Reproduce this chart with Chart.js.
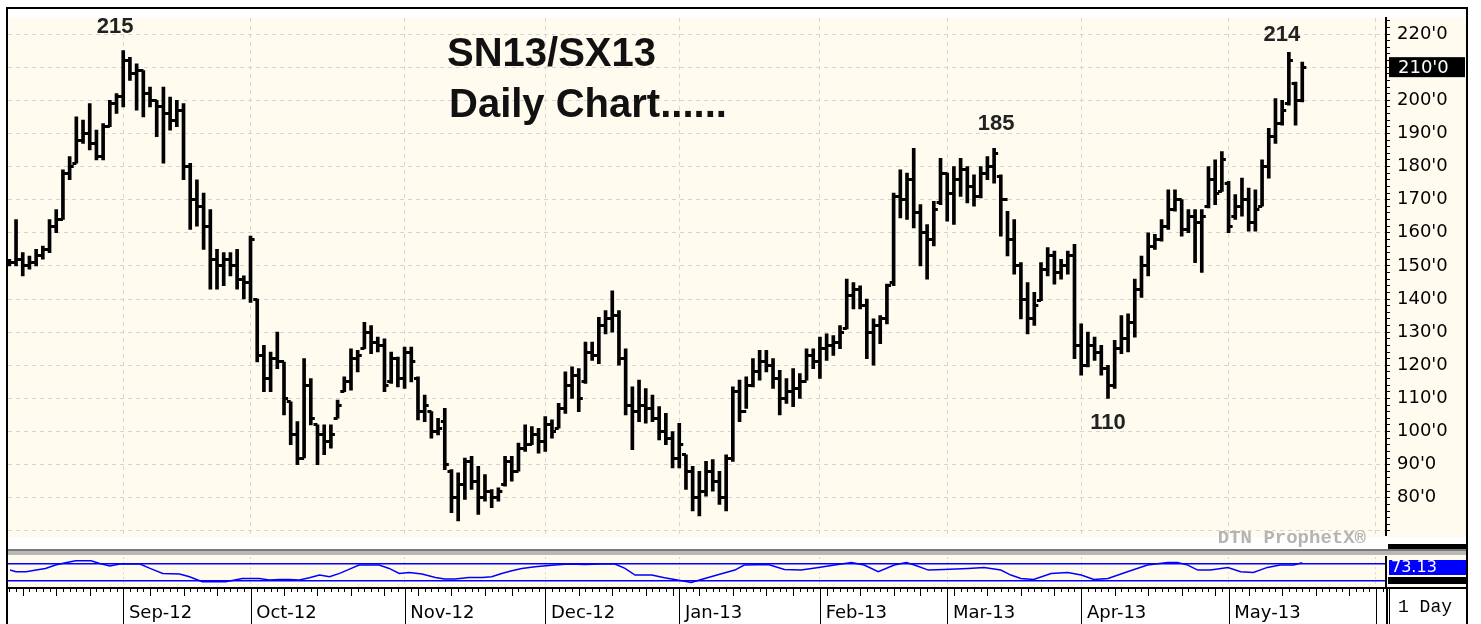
<!DOCTYPE html>
<html>
<head>
<meta charset="utf-8">
<title>SN13/SX13 Daily Chart</title>
<script src="https://cdn.jsdelivr.net/npm/chart.js@4.4.0/dist/chart.umd.min.js"></script>
<style>
    html, body { margin: 0; padding: 0; background: #ffffff; }
    #wrap { position: relative; width: 1481px; height: 624px; overflow: hidden; }
    #priceBox { position: absolute; left: 0; top: 0; width: 1481px; height: 553px; }
    #studyBox { position: absolute; left: 0; top: 553px; width: 1481px; height: 71px; }
</style>
</head>
<body>
<div id="wrap">
    <div id="priceBox"><canvas id="priceChart"></canvas></div>
    <div id="studyBox"><canvas id="studyChart"></canvas></div>
</div>
<script>
// daily bars, Aug 9 2012 .. May 16 2013 (one row per month)
const highs = [
    152, 164, 154, 153, 155, 156, 164, 167, 179, 183, 195, 194, 199, 191, 193, 200, 202,
    215, 213, 211, 209, 204, 200, 204, 201, 200, 199, 181, 176, 172, 167, 155, 154, 154, 155, 147,
    159, 140, 126, 124, 130, 121, 109, 103, 122, 116, 102, 102, 102, 109.5, 116.5, 125, 124.5, 133, 132, 128.5, 128, 124, 122.5,
    125.5, 125.5, 116.5, 111, 106, 104, 107, 88.5, 87.5, 92, 92.5, 89.5, 87, 82.5, 83, 92.5, 92.5, 96.5, 102, 101.5, 101,
    104.5, 103.5, 108.5, 118, 119.5, 119, 127, 127, 134.5, 136.5, 142.5, 136.5, 125, 113.5, 115.5, 113, 111, 107.5, 105.5, 100,
    102.5, 93, 89.5, 88, 91, 91.5, 88, 93, 113.5, 115.5, 116.5, 122, 124.5, 124.5, 122, 118.5, 116, 119, 117.5, 125, 125,
    128.5, 129.5, 129, 132, 146, 145, 144, 140, 134, 135, 144.5, 172, 179, 178, 185.5, 168.5, 162.5, 169.5, 182.5,
    178, 180, 182.5, 180, 177.5, 180, 183, 185.5, 177.5, 166.5, 164, 151, 145, 142, 151, 155.5, 154.5, 152, 154.5, 156.5,
    132.5, 130, 128.5, 126, 120, 127.5, 135, 135.5, 146, 153, 160, 159.5, 164, 173, 173, 170, 167, 167, 167, 180, 182, 184.5,
    175.5, 171.5, 176.5, 173.5, 173, 182, 191.5, 200.5, 200, 214.5, 205.5, 211.5
];
const lows = [
    150, 150, 147, 149, 150, 152, 154, 160, 164, 176, 181, 187, 185, 182, 182, 192, 196,
    198, 206, 197, 195, 198, 189, 181, 191, 192, 176, 161, 162, 155, 143, 143, 144, 147, 143, 140,
    139, 121, 112, 112, 119, 105, 96, 90, 92, 102, 90, 93, 95, 104, 112, 112.5, 118, 125, 123.5, 124, 112, 114.5, 113.5,
    113, 115, 103.5, 103, 98, 99, 88.5, 75.5, 73, 79.5, 82.5, 75, 79, 77, 79, 83.5, 85, 88, 94, 96, 93.5,
    94, 98, 101, 105.5, 110, 106, 114.5, 121.5, 120.5, 129.5, 130, 120, 105, 94.5, 103, 102.5, 103, 97.5, 96, 89,
    89, 82.5, 76, 74.5, 80.5, 82, 78, 76, 91, 103, 107, 113.5, 115.5, 118, 113, 105, 108.5, 107.5, 110, 115.5, 119,
    116, 121.5, 123, 125, 131, 137, 137, 122, 120, 126.5, 132.5, 144, 164.5, 164, 161.5, 150, 146, 156, 168.5,
    163.5, 162.5, 171, 169, 168, 170.5, 176, 175, 159, 153, 147.5, 134, 129.5, 132, 139.5, 147, 144.5, 146, 147.5, 122,
    117, 119.5, 121.5, 117, 110, 113, 123.5, 124, 128.5, 140.5, 147, 155, 157.5, 161, 166.5, 159, 160, 151, 148, 167.5, 168.5, 172.5,
    160, 164, 165, 160.5, 160.5, 168, 176.5, 187, 192.5, 198.5, 192.5, 199.5
];
const opens = [
    151, 151, 152, 150, 151, 153, 155, 162, 164, 178, 181, 188, 190, 187, 183, 192, 199,
    201, 212, 208, 209, 202, 200, 198, 196, 194, 197, 180, 170, 168, 162, 152, 150, 152, 150, 146,
    145, 140, 123, 116, 122, 121, 109, 99, 92, 114, 102, 99, 97, 104, 112, 115, 122, 125, 130, 127, 126, 115, 122,
    116, 124, 116, 106, 106, 100, 103, 88, 80, 84, 91, 85, 80, 82, 80, 84, 91, 88, 95, 96, 99,
    97, 102, 101, 107, 114, 117, 115, 124, 123, 132, 134, 135, 122, 108, 106, 108, 107, 104, 100, 98,
    92, 93, 88, 80, 82, 88, 85, 80, 92, 112, 106, 114, 118, 121, 120, 116, 110, 112, 113, 115, 123,
    121, 125, 126, 127, 131, 141, 143, 138, 130, 132, 134, 145, 171, 170, 176, 166, 160, 158, 169,
    178, 172, 176, 179, 174, 171, 178, 180, 177, 170, 158, 150, 140, 134, 139.5, 149, 153, 148, 150, 153,
    126, 120, 126, 124, 119, 114, 125, 128, 133, 143, 150, 156, 158, 162, 167, 170, 161, 165, 163, 168, 176, 172.5,
    175, 165, 168, 170, 163, 168, 180, 189, 193, 199, 205, 200
];
const closes = [
    151, 152, 150, 151, 153, 155, 162, 164, 178, 180, 188, 190, 187, 183, 192, 199, 201,
    212, 208, 209, 202, 200, 198, 196, 194, 197, 180, 170, 168, 162, 152, 150, 152, 150, 146, 145,
    158, 123, 116, 122, 121, 110, 99, 92, 114, 104, 99, 97, 99, 108, 115, 122, 123, 130, 127, 126, 114, 122, 116,
    124, 121, 106, 108, 100, 101, 90, 80, 84, 91, 85, 80, 82, 80, 82, 91, 88, 95, 96, 99, 97,
    102, 100, 107, 114, 117, 110, 124, 123, 132, 134, 135, 122, 108, 106, 108, 107, 104, 100, 98, 92,
    96, 88, 80, 82, 88, 85, 80, 92, 112, 106, 114, 118, 121, 120, 116, 110, 112, 113, 115, 123, 121,
    125, 126, 127, 130, 141, 143, 138, 130, 132, 134, 144, 171, 170, 176, 166, 160, 158, 167, 178,
    172, 176, 179, 174, 171, 178, 180, 184, 170, 158, 150, 140, 134, 138, 149, 153, 148, 150, 153, 126,
    120, 126, 124, 119, 114, 125, 128, 133, 143, 150, 156, 158, 162, 167, 170, 161, 165, 163, 165, 176, 172, 182,
    162, 168, 170, 163, 167, 180, 189, 193, 197, 212, 200, 210
];

// bar index of the first trading day of each month, and of each week
const monthStarts = [17, 36, 59, 80, 100, 121, 140, 160, 182, 204];
const monthLabels = ['Sep-12', 'Oct-12', 'Nov-12', 'Dec-12', 'Jan-13', 'Feb-13', 'Mar-13', 'Apr-13', 'May-13', ''];
const weekStarts = [2, 7, 12, 17, 21, 26, 31, 36, 41, 46, 51, 56, 61, 66, 71, 75, 80, 85, 90, 95, 99, 103,
    108, 113, 117, 122, 127, 132, 136, 141, 146, 151, 156, 160, 165, 170, 175, 180, 185, 190, 195, 200, 204];

// lower study line (bar index, value)
const studyIdx = [0.1, 1, 2.5, 4, 5.4, 6.9, 8.4, 9.9, 12.2, 13.5, 15, 16.5, 18, 19.5, 21, 22.9, 25.4, 26.9, 28.8,
    32.3, 34.8, 37.3, 38.8, 40.3, 41.8, 43.3, 44.8, 46.3, 47.8, 49.3, 50.7, 52.2, 55.2, 56.7, 58.2, 59.7, 61.6,
    63.6, 65, 66.5, 68.6, 70.6, 72, 73.5, 75, 76.5, 78.5, 81.4, 83.5, 85.9, 88.4, 90.4, 91.9, 93.4, 95.9, 97.8,
    99.3, 101.8, 103.3, 105.9, 108.3, 109.7, 113.3, 115.7, 118.2, 120.8, 123.2, 125.7, 127.6, 129.7, 132.1,
    133.9, 135.1, 137.2, 139.5, 143.1, 145.5, 148, 149.5, 151, 152.9, 155.5, 158, 160, 161.9, 164, 166.9,
    169.9, 172.9, 174.4, 175.9, 177.4, 179.3, 181.9, 183.8, 185.7, 187.8, 189.7, 191.7, 193];
const studyVal = [55.6, 51.6, 51.6, 55.6, 59.6, 67.6, 73.2, 78, 78, 71.6, 65.2, 70, 70, 70, 59.6, 47.6, 46, 39.6, 27.6,
    27.6, 35.6, 35.6, 31.6, 33.2, 33.2, 31.6, 37.2, 43.6, 39.6, 47.6, 57.2, 67.6, 67.6, 59.6, 47.6, 50, 46,
    38, 34, 34, 38, 38, 39.6, 47.6, 54, 59.6, 63.6, 67.6, 70, 69, 70, 70, 59.6, 43.6, 43.6, 37.2,
    33.2, 26, 33.2, 45, 55.6, 67.6, 69, 57.2, 55.6, 62, 67.6, 74, 67.6, 51.6, 67.6,
    74, 67.6, 55.6, 57.2, 59.6, 62, 55.6, 43.6, 35.6, 33.2, 47.6, 50, 43.6, 33.2, 35.6, 51.6,
    67.6, 74, 74, 67.6, 55.6, 55.6, 62, 51.6, 50, 62, 67.6, 67.6, 73.13];
const studyLevels = [30, 70];

// labelled turning points
const markIdx = [17, 147, 164, 191];
const markText = ['215', '185', '110', '214'];

const X_MIN = -0.2;
const X_MAX = 205.5;
const CREAM = '#fffbef';

// small tick images for open (left) and close (right)
function tickImage(side) {
    const c = document.createElement('canvas');
    c.width = 12;
    c.height = 3;
    const g = c.getContext('2d');
    g.fillStyle = '#000';
    if (side === 'right') g.fillRect(6, 0, 4, 3);
    else g.fillRect(2, 0, 4, 3);
    return c;
}

const priceDecor = {
    id: 'priceDecor',
    beforeDraw(chart) {
        const ctx = chart.ctx;
        const a = chart.chartArea;
        ctx.save();
        ctx.fillStyle = '#ffffff';
        ctx.fillRect(0, 0, chart.width, chart.height);
        ctx.fillStyle = CREAM;
        ctx.fillRect(a.left, a.top, 1466 - a.left, a.bottom - a.top + 2);
        ctx.restore();
    },
    afterDraw(chart) {
        const ctx = chart.ctx;
        const a = chart.chartArea;
        const xs = chart.scales.x;
        const ys = chart.scales.y;
        ctx.save();

        // frame
        ctx.fillStyle = '#000';
        ctx.fillRect(6, 7, 1462, 2);
        ctx.fillRect(6, 7, 2, chart.height - 7);
        ctx.fillRect(1466, 7, 2, chart.height - 7);
        ctx.fillRect(1388, 544, 78, 5);
        ctx.fillStyle = '#7a7a7a';
        ctx.fillRect(8, 549, 1458, 2);
        ctx.fillStyle = '#b8b8b8';
        ctx.fillRect(8, 551, 1458, 2);

        // title
        ctx.fillStyle = '#111';
        ctx.font = 'bold 40px "Liberation Sans", Arial, sans-serif';
        ctx.textAlign = 'left';
        ctx.textBaseline = 'alphabetic';
        ctx.fillText('SN13/SX13', 447, 66);
        ctx.fillText('Daily Chart......', 449, 117);

        // turning point labels
        ctx.font = 'bold 22px "Liberation Sans", Arial, sans-serif';
        ctx.textAlign = 'center';
        ctx.fillStyle = '#222';
        const offs = [[-8, -18], [2, -18], [0, 31], [-7, -11]];
        markIdx.forEach((k, i) => {
            const px = xs.getPixelForValue(k) + offs[i][0];
            const val = markText[i] === '110' ? lows[k] : highs[k];
            const py = ys.getPixelForValue(val) + offs[i][1];
            ctx.fillText(markText[i], px, py);
        });

        // watermark
        ctx.font = 'bold 19px "Liberation Mono", "Courier New", monospace';
        ctx.textAlign = 'right';
        ctx.fillStyle = '#b4b4b4';
        ctx.fillText('DTN ProphetX\u00ae', 1366, 543);

        // last price marker on the axis
        const last = closes[closes.length - 1];
        const ly = ys.getPixelForValue(last);
        ctx.fillStyle = '#000';
        ctx.fillRect(1389, ly - 10, 76, 20);
        ctx.fillStyle = '#fff';
        ctx.textAlign = 'left';
        ctx.textBaseline = 'middle';
        ctx.font = '18px "DejaVu Sans", sans-serif';
        ctx.fillText(last + "'0", a.right + 12, ly + 1);
        ctx.restore();
    }
};

const studyDecor = {
    id: 'studyDecor',
    beforeDraw(chart) {
        const ctx = chart.ctx;
        const a = chart.chartArea;
        ctx.save();
        ctx.fillStyle = '#ffffff';
        ctx.fillRect(0, 0, chart.width, chart.height);
        ctx.fillStyle = CREAM;
        ctx.fillRect(a.left, 0, 1466 - a.left, a.bottom);
        ctx.restore();
    },
    afterDraw(chart) {
        const ctx = chart.ctx;
        const a = chart.chartArea;
        const xs = chart.scales.x;
        ctx.save();
        ctx.fillStyle = '#000';
        // frame
        ctx.fillRect(6, 0, 2, chart.height);
        ctx.fillRect(1466, 0, 2, chart.height);
        ctx.fillRect(6, a.bottom, 1462, 2);
        ctx.fillStyle = '#b8b8b8';
        ctx.fillRect(8, 0, 1458, 2);

        // day / week / month ticks along the time axis
        ctx.fillStyle = '#000';
        for (let k = 0; k <= 205; k++) {
            const px = Math.round(xs.getPixelForValue(k));
            if (px < a.left || px > a.right) continue;
            let len = 3;
            if (weekStarts.includes(k)) len = 7;
            if (monthStarts.includes(k)) len = chart.height - a.bottom;
            ctx.fillRect(px, a.bottom + 2, 1, len);
        }
        ctx.fillRect(a.right, a.bottom, 2, chart.height - a.bottom);
        ctx.fillRect(a.right + 3, a.bottom, 1, chart.height - a.bottom);

        // current study value
        ctx.fillStyle = '#0000ff';
        ctx.fillRect(1389, 7, 77, 15);
        ctx.fillStyle = '#000';
        ctx.fillRect(1388, 24, 78, 7);
        ctx.fillStyle = '#ffffff';
        ctx.font = '16px "DejaVu Sans", sans-serif';
        ctx.textAlign = 'left';
        ctx.textBaseline = 'middle';
        ctx.fillText(studyVal[studyVal.length - 1].toFixed(2), 1391, 15);

        ctx.fillStyle = '#000';
        ctx.font = '18px "Liberation Mono", "Courier New", monospace';
        ctx.fillText('1 Day', 1398, 54);
        ctx.restore();
    }
};

document.addEventListener("DOMContentLoaded", function () {
    const bars = highs.map((h, i) => ({ x: i, y: [lows[i], h] }));
    const openPts = opens.map((v, i) => ({ x: i, y: v }));
    const closePts = closes.map((v, i) => ({ x: i, y: v }));

    new Chart(document.getElementById('priceChart'), {
        type: 'bar',
        data: {
            datasets: [
                { type: 'bar', data: bars, backgroundColor: '#000', borderWidth: 0, barThickness: 3, grouped: false },
                { type: 'scatter', data: openPts, pointStyle: tickImage('left'), pointRadius: 3 },
                { type: 'scatter', data: closePts, pointStyle: tickImage('right'), pointRadius: 3 }
            ]
        },
        options: {
            responsive: true,
            maintainAspectRatio: false,
            animation: false,
            events: [],
            layout: { padding: { left: 8, top: 9, right: 15, bottom: 0 } },
            plugins: { legend: { display: false }, tooltip: { enabled: false } },
            scales: {
                x: {
                    type: 'linear',
                    min: X_MIN,
                    max: X_MAX,
                    offset: false,
                    afterBuildTicks: s => { s.ticks = monthStarts.map(v => ({ value: v })); },
                    afterFit: s => { s.height = 5; },
                    ticks: { display: false },
                    grid: { offset: false, color: '#d4d4d4', lineWidth: 1, drawTicks: false },
                    border: { display: false, dash: [4, 4] }
                },
                y: {
                    position: 'right',
                    min: 68.7,
                    max: 224.9,
                    afterBuildTicks: s => {
                        const t = [];
                        for (let v = 70; v <= 224; v += 2) t.push({ value: v });
                        s.ticks = t;
                    },
                    afterFit: s => { s.width = 80; },
                    ticks: {
                        autoSkip: false,
                        padding: 7,
                        color: '#000',
                        font: { family: 'DejaVu Sans', size: 18 },
                        callback: v => (v % 10 === 0 && v >= 80 && v <= 220) ? v + "'0" : ''
                    },
                    grid: {
                        color: c => (c.tick && c.tick.value % 10 === 0) ? '#d4d4d4' : 'rgba(0,0,0,0)',
                        tickColor: '#000',
                        tickLength: 4,
                        tickWidth: 1,
                        tickBorderDash: []
                    },
                    border: { color: '#000', width: 2, dash: [4, 4] }
                }
            }
        },
        plugins: [priceDecor]
    });

    new Chart(document.getElementById('studyChart'), {
        type: 'line',
        data: {
            datasets: [{
                data: studyIdx.map((k, i) => ({ x: k, y: studyVal[i] })),
                borderColor: '#0000ff',
                borderWidth: 1.5,
                pointRadius: 0,
                tension: 0
            }]
        },
        options: {
            responsive: true,
            maintainAspectRatio: false,
            animation: false,
            events: [],
            layout: { padding: { left: 8, top: 4, right: 15, bottom: 0 } },
            plugins: { legend: { display: false }, tooltip: { enabled: false } },
            scales: {
                x: {
                    type: 'linear',
                    min: X_MIN,
                    max: X_MAX,
                    offset: false,
                    afterBuildTicks: s => { s.ticks = monthStarts.map(v => ({ value: v })); },
                    afterFit: s => { s.height = 37; },
                    ticks: {
                        autoSkip: false,
                        maxRotation: 0,
                        align: 'start',
                        padding: 16,
                        color: '#000',
                        font: { family: 'DejaVu Sans', size: 18 },
                        callback: v => {
                            const i = monthStarts.indexOf(v);
                            return i >= 0 && monthLabels[i] ? ' ' + monthLabels[i] : '';
                        }
                    },
                    grid: { offset: false, drawTicks: false, color: '#dadada' },
                    border: { display: false, dash: [2, 3] }
                },
                y: {
                    position: 'right',
                    min: 15,
                    max: 87,
                    afterBuildTicks: s => { s.ticks = studyLevels.map(v => ({ value: v })); },
                    afterFit: s => { s.width = 80; },
                    ticks: { display: false },
                    grid: { color: '#0000ff', lineWidth: 1.5, drawTicks: false },
                    border: { color: '#000', width: 2 }
                }
            }
        },
        plugins: [studyDecor]
    });
});
</script>
</body>
</html>
